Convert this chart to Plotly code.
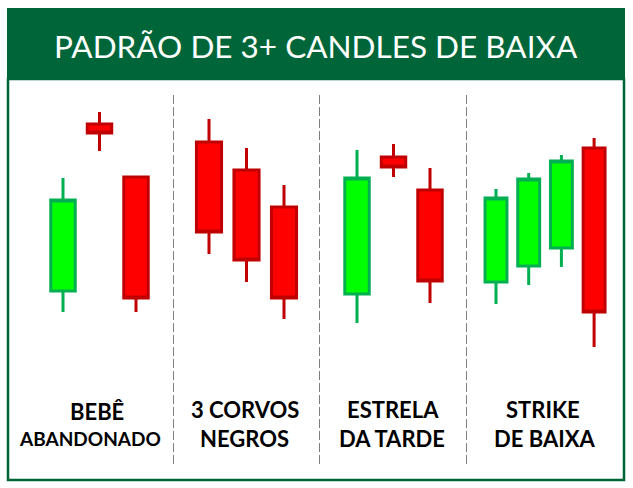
import plotly.graph_objects as go

W, H = 633, 488

# ---- data (price units) ----
title_text = "PADRÃO DE 3+ CANDLES DE BAIXA"
label_line1 = ["BEBÊ", "3 CORVOS", "ESTRELA", "STRIKE"]
label_line2 = ["ABANDONADO", "NEGROS", "DA TARDE", "DE BAIXA"]

g1_open = [197, 364, 311]
g1_high = [310, 376, 311]
g1_low = [176, 337, 176]
g1_close = [288, 355, 190]

g2_open = [346, 318, 281]
g2_high = [369, 340, 303]
g2_low = [234, 206, 169]
g2_close = [256, 228, 190]

g3_open = [194, 331, 298]
g3_high = [338, 344, 320]
g3_low = [165, 311, 185]
g3_close = [310, 321, 207]

g4_open = [206, 222, 240, 340]
g4_high = [299, 315, 333, 350]
g4_low = [184, 203, 221, 141]
g4_close = [290, 309, 327, 176]

groups = [
    (g1_open, g1_high, g1_low, g1_close),
    (g2_open, g2_high, g2_low, g2_close),
    (g3_open, g3_high, g3_low, g3_close),
    (g4_open, g4_high, g4_low, g4_close),
]

# ---- layout helpers ----
def px(x):
    return x / W

def py(y):
    return 1 - y / H

GREEN_DARK = "#00663A"
inc = dict(line=dict(color="#00B050", width=3), fillcolor="#00FF00")
dec = dict(line=dict(color="#C00000", width=3), fillcolor="#FF0000")

# first candle center and spacing (pixels) for each group
group_pos = [(63, 36.5), (209, 37.5), (357, 36.5), (496, 32.7)]

fig = go.Figure()
axis_names = ["x", "x2", "x3", "x4"]
for i, ((o, h, l, c), (a, b)) in enumerate(zip(groups, group_pos)):
    fig.add_trace(go.Candlestick(
        x=list(range(len(o))), open=o, high=h, low=l, close=c,
        increasing=inc, decreasing=dec, whiskerwidth=0,
        xaxis=axis_names[i], yaxis="y", hoverinfo="skip", showlegend=False,
    ))
    key = "xaxis" if i == 0 else f"xaxis{i+1}"
    ax = dict(range=[(0 - a) / b, (W - a) / b], domain=[0, 1], visible=False,
              rangeslider=dict(visible=False), fixedrange=True)
    if i > 0:
        ax["overlaying"] = "x"
    fig.layout[key] = ax

fig.update_layout(
    width=W, height=H, margin=dict(l=0, r=0, t=0, b=0),
    paper_bgcolor="white", plot_bgcolor="rgba(0,0,0,0)",
    yaxis=dict(range=[0, H], domain=[0, 1], visible=False, fixedrange=True),
    boxgap=0.33, boxgroupgap=0,
    showlegend=False,
)

shapes = [
    dict(type="rect", xref="paper", yref="paper", x0=px(7), x1=px(625), y0=py(80), y1=py(8),
         fillcolor=GREEN_DARK, line=dict(width=0), layer="below"),
    dict(type="rect", xref="paper", yref="paper", x0=px(8), x1=px(624), y0=py(480), y1=py(79),
         fillcolor="rgba(0,0,0,0)", line=dict(color=GREEN_DARK, width=2.5), layer="below"),
]
for xd in [173.5, 319.5, 466.5]:
    shapes.append(dict(type="line", xref="paper", yref="paper", x0=px(xd), x1=px(xd),
                       y0=py(95), y1=py(465), line=dict(color="#7F7F7F", width=1, dash="9px,3px"),
                       layer="below"))
fig.update_layout(shapes=shapes)

ann = [dict(text=title_text, x=px(316), y=py(46), xref="paper", yref="paper",
            showarrow=False, xanchor="center", yanchor="middle",
            font=dict(family="Lato", size=31.5, color="white"))]
l1_x = [97, 245, 393, 543]
l2_x = [90, 244, 392, 545]
for i in range(4):
    ann.append(dict(text=label_line1[i], x=px(l1_x[i]), y=py(409 if i else 411), xref="paper", yref="paper",
                    showarrow=False, xanchor="center", yanchor="middle",
                    font=dict(family="Lato", size=22, color="black", weight=700)))
    ann.append(dict(text=label_line2[i], x=px(l2_x[i]), y=py(438), xref="paper", yref="paper",
                    showarrow=False, xanchor="center", yanchor="middle",
                    font=dict(family="Lato", size=19 if i == 0 else 22, color="black", weight=700)))
fig.update_layout(annotations=ann)

fig.write_html("out.html", config=dict(displayModeBar=False, staticPlot=True))
